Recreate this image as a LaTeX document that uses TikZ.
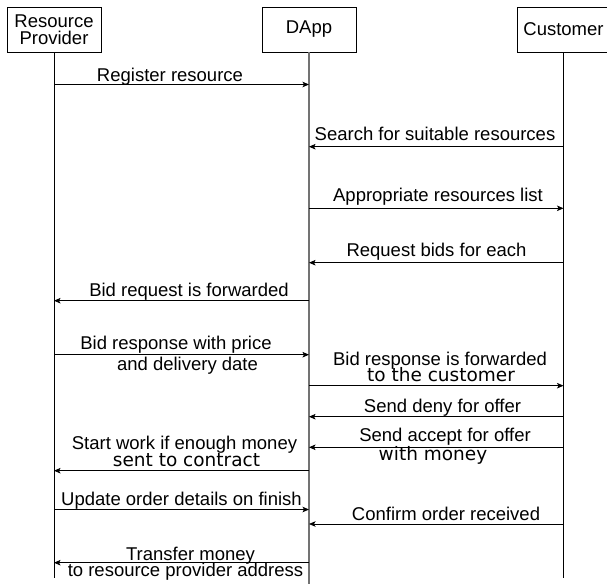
\documentclass[tikz,border=0pt]{standalone}
\usepackage{fontspec}
\setmainfont{Liberation Sans}
\newfontfamily\dvfont{DejaVu Sans}
\usetikzlibrary{arrows.meta}
\begin{document}
\begin{tikzpicture}[x=1pt,y=-1pt,
  actor/.style={draw, line width=0.9pt, minimum width=94pt, minimum height=45pt,
    inner sep=0pt, align=center, font=\fontsize{18.5}{17.5}\selectfont},
  lbl/.style={anchor=base, inner sep=0pt, font=\fontsize{18.5}{20}\selectfont},
  lbldv/.style={anchor=base, inner sep=0pt, font=\dvfont\fontsize{18.5}{20}\selectfont},
  msg/.style={line width=0.8pt, -{Stealth[length=6.5pt,width=5.5pt,inset=1.5pt]}},
  life/.style={line width=0.9pt},
  hub/.style={line width=1.4pt, draw=black!55}]
\clip (0,0) rectangle (607,583);

% participants
\node[actor] (rp)   at (54,29.5)    {Resource\\Provider};
\node[actor] (dapp) at (309,29.5)   {DApp};
\node[actor, minimum width=93pt] (cu) at (563.5,29.5) {Customer};

% lifelines
\coordinate (lowend) at (0,578);
\coordinate (bottom) at (0,584);
\draw[life] (rp.south) -- (rp.south |- lowend);
\draw[hub]  (dapp.south) -- (dapp.south |- bottom);
\draw[life] (cu.south) -- (cu.south |- lowend);

% message heights
\coordinate (m1)  at (0,84.5);
\coordinate (m2)  at (0,146.7);
\coordinate (m3)  at (0,208.3);
\coordinate (m4)  at (0,262.7);
\coordinate (m5)  at (0,300.7);
\coordinate (m6)  at (0,354.7);
\coordinate (m7)  at (0,385.7);
\coordinate (m8)  at (0,416.7);
\coordinate (m9)  at (0,447.3);
\coordinate (m10) at (0,470.7);
\coordinate (m11) at (0,509.5);
\coordinate (m12) at (0,524);
\coordinate (m13) at (0,562.7);

% messages
\draw[msg] (rp |- m1)   -- (dapp |- m1);
\draw[msg] (cu |- m2)   -- (dapp |- m2);
\draw[msg] (dapp |- m3) -- (cu |- m3);
\draw[msg] (cu |- m4)   -- (dapp |- m4);
\draw[msg] (dapp |- m5) -- (rp |- m5);
\draw[msg] (rp |- m6)   -- (dapp |- m6);
\draw[msg] (dapp |- m7) -- (cu |- m7);
\draw[msg] (cu |- m8)   -- (dapp |- m8);
\draw[msg] (cu |- m9)   -- (dapp |- m9);
\draw[msg] (dapp |- m10) -- (rp |- m10);
\draw[msg] (rp |- m11)  -- (dapp |- m11);
\draw[msg] (cu |- m12)  -- (dapp |- m12);
\draw[msg] (dapp |- m13) -- (rp |- m13);

% labels
\node[lbl] (t1)  at (170,81.5)   {Register resource};
\node[lbl] (t2)  at (435,140.7)  {Search for suitable resources};
\node[lbl] (t3)  at (438,201.7)  {Appropriate resources list};
\node[lbl] (t4)  at (436.5,256.7) {Request bids for each};
\node[lbl] (t5)  at (189,296)    {Bid request is forwarded};
\node[lbl] (t6a) at (176,349.3)  {Bid response with price};
\node[lbl] (t6b) at (187.5,370.7) {and delivery date};
\node[lbl] (t7a) at (440,365)    {Bid response is forwarded};
\node[lbldv] (t7b) at (441,381.7) {to the customer};
\node[lbl] (t8)  at (442.5,412.7) {Send deny for offer};
\node[lbl] (t9a) at (445,441.7)  {Send accept for offer};
\node[lbldv] (t9b) at (433,460.7) {with money};
\node[lbl] (t10a) at (184.5,449) {Start work if enough money};
\node[lbldv] (t10b) at (186.5,466.7) {sent to contract};
\node[lbl] (t11) at (181.5,505)  {Update order details on finish};
\node[lbl] (t12) at (446,520.8)  {Confirm order received};
\node[lbl] (t13a) at (190.5,560) {Transfer money};
\node[lbl] (t13b) at (185.5,576.7) {to resource provider address};
\end{tikzpicture}
\end{document}
